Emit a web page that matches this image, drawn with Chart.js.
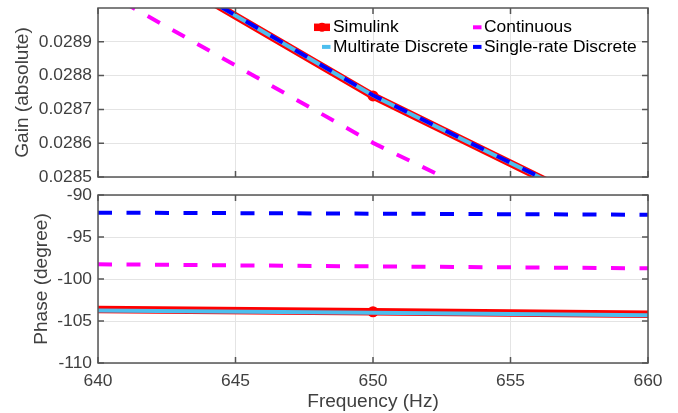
<!DOCTYPE html>
<html>
<head>
<meta charset="utf-8">
<script src="https://cdn.jsdelivr.net/npm/chart.js@4.4.0/dist/chart.umd.min.js"></script>
<style>
  html, body { margin: 0; padding: 0; background: #fff; }
  #wrap { position: relative; width: 678px; height: 413px; }
  .box { position: absolute; left: 0; width: 678px; }
  #gainBox { top: 0; height: 185px; }
  #phaseBox { top: 185px; height: 228px; }
</style>
</head>
<body>
<div id="wrap">
  <div class="box" id="gainBox"><canvas id="gain" width="678" height="185"></canvas></div>
  <div class="box" id="phaseBox"><canvas id="phase" width="678" height="228"></canvas></div>
</div>
<script>
// frequencies (Hz)
const freq = [640, 650, 660]

// gain (absolute)
const gainSimulink = [0.029213, 0.02874, 0.028341]
const gainContinuous = [0.029059, 0.028601, 0.028205]
const gainMultirate = [0.029214, 0.028741, 0.028342]
const gainSingleRate = [0.029215, 0.028742, 0.028343]

// phase (degree)
const phaseSimulink = [-103.63, -103.9, -104.2]
const phaseContinuous = [-98.25, -98.5, -98.73]
const phaseMultirate = [-103.75, -104.02, -104.32]
const phaseSingleRate = [-92.1, -92.22, -92.35]

const labels = ['Simulink', 'Continuous', 'Multirate Discrete', 'Single-rate Discrete']
const freqTicks = [640, 645, 650, 655, 660]
const gainTicks = [0.0285, 0.0286, 0.0287, 0.0288, 0.0289]
const phaseTicks = [-110, -105, -100, -95, -90]

const FONT = '"Liberation Sans", Arial, Helvetica, sans-serif'
const AXIS = '#555555'
const TEXT = '#404040'
const GRID = '#e4e4e4'

function series(label, ys, color, width, dash, order) {
    return {
        label: label,
        data: freq.map((f, i) => ({ x: f, y: ys[i] })),
        borderColor: color,
        backgroundColor: color,
        borderWidth: width,
        borderDash: dash,
        pointRadius: 0,
        showLine: true,
        tension: 0,
        clip: 0,
        order: order,
    }
}

function datasets(sim, cont, multi, single) {
    let s = series(labels[0], sim, '#ff0000', 7.5, [], 4)
    s.pointRadius = [0, 5.5, 0]
    s.pointBorderWidth = 0
    s.pointBackgroundColor = '#ff0000'
    return [
        s,
        series(labels[1], cont, '#ff00ff', 4, [14, 14.5], 3),
        series(labels[2], multi, '#4dbeee', 4, [], 2),
        series(labels[3], single, '#0000ff', 4, [14, 14.5], 1),
    ]
}

// MATLAB like box with inward ticks
const boxPlugin = {
    id: 'box',
    afterDraw(chart) {
        const { ctx, chartArea: a, scales } = chart
        ctx.save()
        ctx.strokeStyle = AXIS
        ctx.lineWidth = 1.5
        ctx.strokeRect(a.left, a.top, a.right - a.left, a.bottom - a.top)
        ctx.beginPath()
        scales.x.ticks.forEach(t => {
            const px = scales.x.getPixelForValue(t.value)
            ctx.moveTo(px, a.bottom); ctx.lineTo(px, a.bottom - 6)
            ctx.moveTo(px, a.top); ctx.lineTo(px, a.top + 6)
        })
        scales.y.ticks.forEach(t => {
            const py = scales.y.getPixelForValue(t.value)
            ctx.moveTo(a.left, py); ctx.lineTo(a.left + 6, py)
            ctx.moveTo(a.right, py); ctx.lineTo(a.right - 6, py)
        })
        ctx.stroke()
        ctx.restore()
    }
}

// legend in two columns inside the gain axes
const legendPlugin = {
    id: 'legendInside',
    afterDraw(chart) {
        const ctx = chart.ctx
        const colX = [333, 484]
        const rowY = [27.3, 46.9]
        ctx.save()
        ctx.font = '17.4px ' + FONT
        ctx.textBaseline = 'middle'
        ctx.fillStyle = '#000'
        chart.data.datasets.forEach((ds, k) => {
            const tx = colX[k % 2]
            const ty = rowY[Math.floor(k / 2)]
            ctx.strokeStyle = ds.borderColor
            ctx.lineWidth = ds.borderWidth
            ctx.beginPath()
            if (k === 0) {
                ctx.moveTo(tx - 19, ty); ctx.lineTo(tx - 3, ty)
                ctx.stroke()
                ctx.beginPath()
                ctx.fillStyle = ds.borderColor
                ctx.arc(tx - 11, ty, 4.5, 0, Math.PI * 2)
                ctx.fill()
                ctx.fillStyle = '#000'
            } else {
                ctx.moveTo(tx - 11, ty); ctx.lineTo(tx - 2.5, ty)
                ctx.stroke()
            }
            ctx.fillText(ds.label, tx, ty)
        })
        ctx.restore()
    }
}

function xScale(showLabels, height) {
    return {
        type: 'linear',
        min: 640,
        max: 660,
        afterBuildTicks: s => { s.ticks = freqTicks.map(v => ({ value: v })) },
        afterFit: s => { s.height = height; s.paddingLeft = 0; s.paddingRight = 0 },
        grid: { color: GRID, drawTicks: false },
        border: { display: false },
        ticks: {
            display: showLabels,
            color: TEXT,
            padding: 7.4,
            maxRotation: 0,
            font: { family: FONT, size: 17.4 },
        },
        title: {
            display: showLabels,
            text: 'Frequency (Hz)',
            color: TEXT,
            font: { family: FONT, size: 19.1 },
            padding: { top: 0, bottom: 0 },
        },
    }
}

function yScale(min, max, ticks, fmt, title, titlePad) {
    return {
        min: min,
        max: max,
        afterBuildTicks: s => { s.ticks = ticks.map(v => ({ value: v })) },
        afterFit: s => { s.width = 98; s.paddingTop = 0; s.paddingBottom = 0 },
        grid: { color: GRID, drawTicks: false },
        border: { display: false },
        ticks: {
            color: TEXT,
            padding: 6,
            font: { family: FONT, size: 17.4 },
            callback: fmt,
        },
        title: {
            display: true,
            text: title,
            color: TEXT,
            font: { family: FONT, size: 19.1 },
            padding: { top: titlePad, bottom: 0 },
        },
    }
}

new Chart(document.getElementById('gain'), {
    type: 'scatter',
    data: { datasets: datasets(gainSimulink, gainContinuous, gainMultirate, gainSingleRate) },
    options: {
        responsive: false,
        animation: false,
        events: [],
        layout: { padding: { top: 8, right: 30, left: 0, bottom: 0 } },
        plugins: { legend: { display: false }, tooltip: { enabled: false } },
        scales: {
            x: xScale(false, 8),
            y: yScale(0.0285, 0.029, gainTicks, v => v.toFixed(4), 'Gain (absolute)', 11.4),
        },
    },
    plugins: [boxPlugin, legendPlugin],
})

new Chart(document.getElementById('phase'), {
    type: 'scatter',
    data: { datasets: datasets(phaseSimulink, phaseContinuous, phaseMultirate, phaseSingleRate) },
    options: {
        responsive: false,
        animation: false,
        events: [],
        layout: { padding: { top: 10, right: 30, left: 0, bottom: 0 } },
        plugins: { legend: { display: false }, tooltip: { enabled: false } },
        scales: {
            x: xScale(true, 50),
            y: yScale(-110, -90, phaseTicks, v => String(v), 'Phase (degree)', 30.6),
        },
    },
    plugins: [boxPlugin],
})
</script>
</body>
</html>
